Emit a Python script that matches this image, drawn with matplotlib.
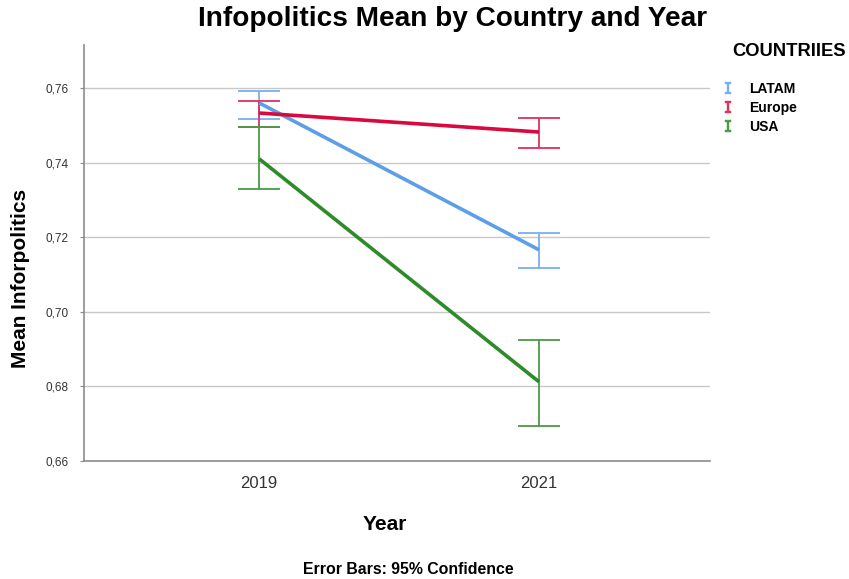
import matplotlib.pyplot as plt
from matplotlib.lines import Line2D
from matplotlib.ticker import FuncFormatter

plt.rcParams['font.family'] = ['Liberation Sans', 'DejaVu Sans']

years = ['2019', '2021']
countries = ['LATAM', 'Europe', 'USA']
colors = ['#5d9ee8', '#d9083f', '#2e8b2a']
err_colors = ['#7aaeee', '#e0305c', '#4a9a46']

means = {
    'LATAM': [0.7560, 0.7166],
    'Europe': [0.7533, 0.7482],
    'USA': [0.7410, 0.6812],
}
ci_low = {
    'LATAM': [0.7517, 0.7118],
    'Europe': [0.7496, 0.7440],
    'USA': [0.7329, 0.6694],
}
ci_high = {
    'LATAM': [0.7592, 0.7212],
    'Europe': [0.7565, 0.7520],
    'USA': [0.7496, 0.6923],
}

fig = plt.figure(figsize=(8.49, 5.79), dpi=100)
ax = fig.add_axes([0.099, 0.204, 0.737, 0.718])

x = [0, 1]
for name, c, ec in zip(countries, colors, err_colors):
    m = means[name]
    lo = [m[i] - ci_low[name][i] for i in range(2)]
    hi = [ci_high[name][i] - m[i] for i in range(2)]
    ax.errorbar(x, m, yerr=[lo, hi], fmt='none', ecolor=ec, elinewidth=1.3,
                capsize=14.8, capthick=1.3, zorder=3)
    ax.plot(x, m, color=c, linewidth=2.6, zorder=4, solid_capstyle='butt')

ax.set_xlim(-0.626, 1.61)
ax.set_ylim(0.66, 0.7715)
ax.set_xticks(x)
ax.set_xticklabels(years)
ax.set_yticks([0.66, 0.68, 0.70, 0.72, 0.74, 0.76])
ax.yaxis.set_major_formatter(FuncFormatter(lambda v, p: f'{v:.2f}'.replace('.', ',')))
ax.grid(axis='y', color='#c8c8c8', linewidth=1)
ax.set_axisbelow(True)

for s in ['top', 'right']:
    ax.spines[s].set_visible(False)
for s in ['left', 'bottom']:
    ax.spines[s].set_color('#8c8c8c')
    ax.spines[s].set_linewidth(1.2)
ax.tick_params(axis='y', length=3, color='#8c8c8c', labelsize=8.5, labelcolor='#333333', pad=8)
ax.tick_params(axis='x', length=0, labelsize=12, labelcolor='#333333', pad=11)

fig.text(385 / 849, 1 - 525 / 579, 'Year', ha='center', va='center',
         fontsize=15, fontweight='bold')
fig.text(21 / 849, 1 - 278 / 579, 'Mean Inforpolitics', ha='center', va='center',
         rotation=90, fontsize=15, fontweight='bold')
fig.text(453 / 849, 1 - 19 / 579, 'Infopolitics Mean by Country and Year', ha='center',
         va='center', fontsize=20.2, fontweight='bold')
fig.text(408 / 849, 1 - 570 / 579, 'Error Bars: 95% Confidence', ha='center', va='center',
         fontsize=11.4, fontweight='bold')

# legend: title placed separately so the gap above the entries can be set
fig.text(789 / 849, 1 - 51 / 579, 'COUNTRIIES', ha='center', va='center',
         fontsize=13.2, fontweight='bold')
handles = [Line2D([], [], color=ec, marker='$\\mathtt{I}$', linestyle='None', markersize=8,
                  markeredgewidth=0.3) for ec in err_colors]
fig.legend(handles, countries, loc='upper left', bbox_to_anchor=(714 / 849, 1 - 82 / 579),
           frameon=False, handletextpad=0.55, labelspacing=0.36,
           prop={'weight': 'bold', 'size': 10}, borderaxespad=0, borderpad=0)

fig.savefig('out.png', dpi=100)
